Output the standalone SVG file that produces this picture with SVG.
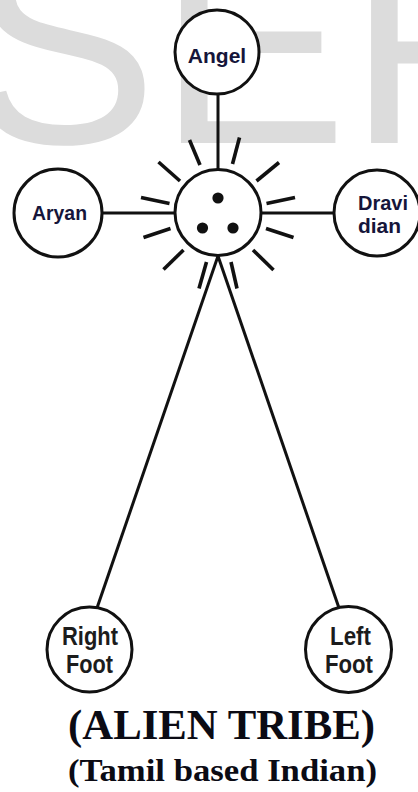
<svg xmlns="http://www.w3.org/2000/svg" width="418" height="792" viewBox="0 0 418 792">
<style>
.wm{font-family:"Liberation Sans",Arial,sans-serif;font-size:285px;fill:#dcdcdc}
.node{fill:#fff;stroke:#111;stroke-width:3}
.lbl{font-family:"Liberation Sans",Arial,sans-serif;font-weight:bold;font-size:21px;fill:#15153a}
.ft{font-family:"Liberation Sans",Arial,sans-serif;font-weight:bold;font-size:25px;fill:#1c1c1c}
.con{stroke:#111;stroke-width:3;fill:none}
.ray{stroke:#111;stroke-width:3.6;fill:none}
.ttl{font-family:"Liberation Serif","Times New Roman",serif;font-weight:bold;fill:#0b0b14}
</style>
<rect width="418" height="792" fill="#fff"/>
<text class="wm" x="-32.5" y="143">SEF</text>
<g id="connectors">
<line class="con" x1="218" y1="95" x2="218" y2="170"/>
<line class="con" x1="102" y1="213" x2="175" y2="213"/>
<line class="con" x1="261" y1="213" x2="334" y2="213"/>
<line class="con" stroke-width="2.6" x1="218" y1="256" x2="97" y2="608"/>
<line class="con" stroke-width="2.6" x1="218" y1="256" x2="339" y2="608"/>
</g>
<g id="angel">
<circle class="node" cx="217" cy="52" r="42"/>
<text class="lbl" x="217" y="63" text-anchor="middle">Angel</text>
</g>
<g id="aryan">
<circle class="node" cx="58" cy="213" r="44"/>
<text class="lbl" x="59.5" y="220" text-anchor="middle" textLength="55" lengthAdjust="spacingAndGlyphs">Aryan</text>
</g>
<g id="dravidian">
<circle class="node" cx="377" cy="213" r="43"/>
<text class="lbl" x="358" y="210" textLength="50" lengthAdjust="spacingAndGlyphs">Dravi</text>
<text class="lbl" x="358" y="233" textLength="43" lengthAdjust="spacingAndGlyphs">dian</text>
</g>
<g id="center">
<g class="ray">
<line x1="200" y1="165" x2="189.5" y2="140"/>
<line x1="232.5" y1="164" x2="239.5" y2="137.5"/>
<line x1="180" y1="181" x2="158.5" y2="162"/>
<line x1="256.5" y1="181" x2="279" y2="162.5"/>
<line x1="169.5" y1="203.5" x2="141" y2="197.5"/>
<line x1="266.5" y1="203.5" x2="295" y2="197.5"/>
<line x1="170.5" y1="228.5" x2="143.5" y2="237.5"/>
<line x1="266" y1="228.5" x2="293.5" y2="237.5"/>
<line x1="183.5" y1="250" x2="163.5" y2="269.5"/>
<line x1="253" y1="250" x2="273.5" y2="270"/>
<line x1="206.5" y1="262" x2="199" y2="288.5"/>
<line x1="231" y1="262" x2="237" y2="288.5"/>
</g>
<circle class="node" cx="218" cy="212.5" r="43"/>
<circle cx="218" cy="198" r="5.6" fill="#111"/>
<circle cx="202.5" cy="228" r="5.6" fill="#111"/>
<circle cx="233" cy="228" r="5.6" fill="#111"/>
</g>
<g id="rightfoot">
<circle class="node" cx="89.5" cy="649.5" r="42.5"/>
<text class="ft" x="90" y="645" text-anchor="middle" textLength="56" lengthAdjust="spacingAndGlyphs">Right</text>
<text class="ft" x="89.5" y="673" text-anchor="middle" textLength="47" lengthAdjust="spacingAndGlyphs">Foot</text>
</g>
<g id="leftfoot">
<circle class="node" cx="348.5" cy="649.5" r="43"/>
<text class="ft" x="350.5" y="645" text-anchor="middle" textLength="41" lengthAdjust="spacingAndGlyphs">Left</text>
<text class="ft" x="349" y="673" text-anchor="middle" textLength="48" lengthAdjust="spacingAndGlyphs">Foot</text>
</g>
<g id="title">
<text class="ttl" x="221.5" y="739" font-size="42" text-anchor="middle" textLength="307" lengthAdjust="spacingAndGlyphs">(ALIEN TRIBE)</text>
<text class="ttl" x="222.5" y="781" font-size="32" fill="#1e1e1e" text-anchor="middle" textLength="309" lengthAdjust="spacingAndGlyphs">(Tamil based Indian)</text>
</g>
</svg>
